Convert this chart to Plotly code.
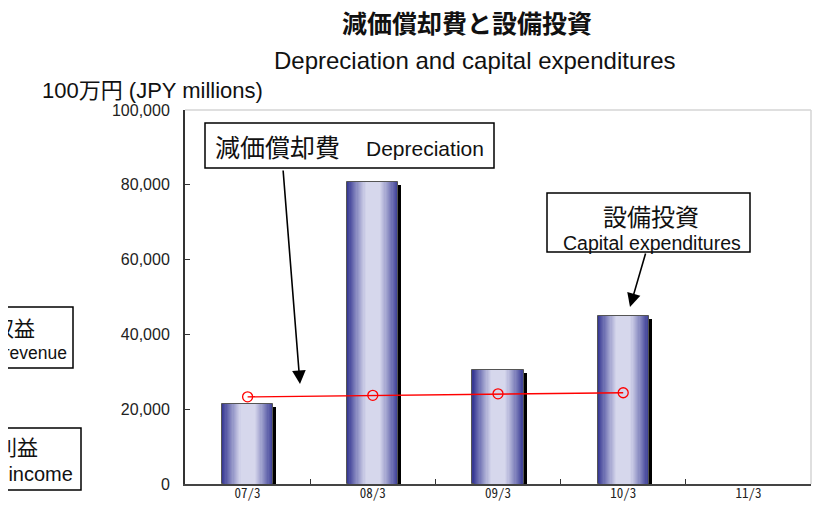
import plotly.graph_objects as go

# ---- data ----
periods = ["07/3", "08/3", "09/3", "10/3", "11/3"]
capex = [21500, 80800, 30600, 45000, None]          # 設備投資 Capital expenditures (bars)
depreciation = [23300, 23700, 24100, 24400, None]   # 減価償却費 Depreciation (line)
y_ticks = [0, 20000, 40000, 60000, 80000, 100000]
y_tick_labels = ["0", "20,000", "40,000", "60,000", "80,000", "100,000"]

# ---- geometry helpers (target screen pixels -> paper) ----
W, H = 831, 509
OFF = 8  # page body margin offset in the browser
L, R, T, B = 185, 811, 110, 484   # plot area in screen pixels
def px(x):
    return (x - L) / (R - L)
def py(y):
    return (B - y) / (B - T)

YMAX = 100000
px_per_y = (B - T) / YMAX
cat_w = (R - L) / len(periods)

LAT = "Liberation Sans, Arial, Noto Sans CJK JP"
CJK = "Noto Sans CJK JP, Liberation Sans"

fig = go.Figure()

BW = 0.41  # bar width in category units
# shadow
dx = 3 / cat_w
dy = 3 / px_per_y
fig.add_trace(go.Bar(
    x=periods, y=capex, base=[-dy] * len(periods), width=BW,
    offset=-BW / 2 + dx, marker=dict(color="black", line=dict(width=0)),
    hoverinfo="skip", showlegend=False))

# gradient bar made of nested bars
dark = (56, 58, 148)
light = (214, 215, 236)
N = 22
for k in range(N):
    f = 1 - k / N
    t = max(0.0, min(1.0, (f - 0.28) / 0.72)) ** 1.1
    c = tuple(int(round(light[i] + (dark[i] - light[i]) * t)) for i in range(3))
    line = dict(width=1, color="#555555") if k == 0 else dict(width=0)
    fig.add_trace(go.Bar(
        x=periods, y=capex, width=BW * f,
        marker=dict(color="rgb(%d,%d,%d)" % c, line=line),
        hoverinfo="skip", showlegend=False))

fig.add_trace(go.Scatter(
    x=periods, y=depreciation, mode="lines+markers",
    line=dict(color="#ff0000", width=1.3),
    marker=dict(symbol="circle-open", size=10, color="#ff0000", line=dict(width=1.3)),
    showlegend=False, hoverinfo="skip"))

shapes = [
    # light top/right frame
    dict(type="line", xref="paper", yref="paper", x0=0, x1=1, y0=1, y1=1,
         line=dict(color="#d4d4d4", width=1.5)),
    dict(type="line", xref="paper", yref="paper", x0=1, x1=1, y0=0, y1=1,
         line=dict(color="#d4d4d4", width=1.5)),
    # annotation boxes
    dict(type="rect", xref="paper", yref="paper", x0=px(205), x1=px(494), y0=py(168), y1=py(123),
         line=dict(color="black", width=1.5), fillcolor="white", layer="above"),
    dict(type="rect", xref="paper", yref="paper", x0=px(547), x1=px(750), y0=py(252), y1=py(193),
         line=dict(color="black", width=1.5), fillcolor="white", layer="above"),
    # clipped boxes on the left
    dict(type="rect", xref="paper", yref="paper", x0=px(-80), x1=px(73), y0=py(368), y1=py(307),
         line=dict(color="black", width=1.5), fillcolor="white", layer="above"),
    dict(type="rect", xref="paper", yref="paper", x0=px(-80), x1=px(81), y0=py(490), y1=py(428),
         line=dict(color="black", width=1.5), fillcolor="white", layer="above"),
]

def txt(x, y, s, size, anchor="center", font=LAT, color="#111111"):
    return dict(x=px(x), y=py(y), xref="paper", yref="paper", text=s, showarrow=False,
                xanchor=anchor, yanchor="middle", font=dict(family=font, size=size, color=color))

ann = [
    txt(467, 22, "<b>減価償却費と設備投資</b>", 25, font=CJK),
    txt(475, 61, "Depreciation and capital expenditures", 24),
    txt(40, 90, "100万円 (JPY millions)", 22, anchor="left"),
    txt(213, 146, "減価償却費", 25, anchor="left", font=CJK),
    txt(364, 148, "Depreciation", 21, anchor="left"),
    txt(651, 215, "設備投資", 24, font=CJK),
    txt(652, 243, "Capital expenditures", 19.5),
    txt(37, 327, "営業収益", 21, anchor="right", font=CJK),
    txt(69, 353, "Operating revenue", 17.5, anchor="right"),
    txt(40, 446, "営業利益", 21, anchor="right", font=CJK),
    txt(75, 474, "Operating income", 20, anchor="right"),
]
# arrows
for hx, hy, tx, ty in [(300, 384, 283, 169), (630, 307, 646, 252)]:
    ann.append(dict(x=px(hx), y=py(hy), xref="paper", yref="paper", text="", showarrow=True,
                    ax=tx - hx, ay=ty - hy, arrowhead=2, arrowsize=1.7, arrowwidth=1.6,
                    arrowcolor="black", standoff=0, startstandoff=0))

fig.update_layout(
    width=W, height=H, autosize=False,
    margin=dict(l=L - OFF, r=W - (R - OFF), t=T - OFF, b=H - (B - OFF), autoexpand=False),
    paper_bgcolor="white", plot_bgcolor="white",
    barmode="overlay", bargap=0,
    shapes=shapes, annotations=ann, showlegend=False,
    xaxis=dict(type="category", categoryorder="array", categoryarray=periods,
               range=[-0.5, len(periods) - 0.5], automargin=False,
               showline=True, linecolor="#444444", linewidth=2,
               ticks="inside", tickson="boundaries", ticklen=5, tickcolor="#333333", tickwidth=1,
               showgrid=False, zeroline=False, ticklabelstandoff=-4,
               tickfont=dict(family="Noto Sans Mono CJK JP, DejaVu Sans Mono", size=13, color="#222222")),
    yaxis=dict(range=[0, YMAX], tickvals=y_ticks, ticktext=y_tick_labels, automargin=False,
               showline=True, linecolor="#333333", linewidth=2,
               ticks="inside", ticklen=5, tickcolor="#333333", tickwidth=1,
               showgrid=False, zeroline=False, ticklabelstandoff=10,
               tickfont=dict(family="Liberation Sans", size=16, color="#222222")),
)

fig.write_html("out.html")
